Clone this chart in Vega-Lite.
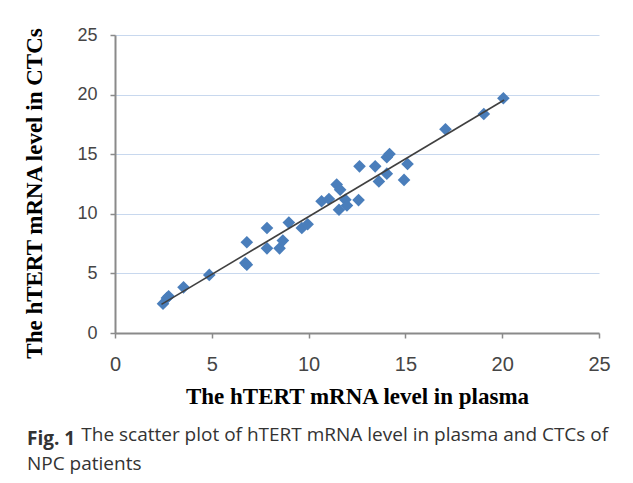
{
  "$schema": "https://vega.github.io/schema/vega-lite/v6.json",
  "width": 484,
  "height": 298,
  "autosize": {"type": "none"},
  "padding": {"left": 115, "top": 35, "right": 34, "bottom": 150},
  "background": "white",
  "data": {
    "values": [
      {"plasma": 2.48, "ctc": 2.46},
      {"plasma": 2.68, "ctc": 2.94},
      {"plasma": 2.77, "ctc": 3.08},
      {"plasma": 3.54, "ctc": 3.83},
      {"plasma": 4.87, "ctc": 4.87},
      {"plasma": 6.81, "ctc": 5.73},
      {"plasma": 6.73, "ctc": 5.87},
      {"plasma": 6.81, "ctc": 7.61},
      {"plasma": 7.85, "ctc": 7.10},
      {"plasma": 7.85, "ctc": 8.81},
      {"plasma": 8.50, "ctc": 7.10},
      {"plasma": 8.67, "ctc": 7.75},
      {"plasma": 8.98, "ctc": 9.26},
      {"plasma": 9.65, "ctc": 8.81},
      {"plasma": 9.95, "ctc": 9.12},
      {"plasma": 10.67, "ctc": 11.05},
      {"plasma": 11.05, "ctc": 11.24},
      {"plasma": 11.45, "ctc": 12.45},
      {"plasma": 11.63, "ctc": 12.02},
      {"plasma": 11.57, "ctc": 10.34},
      {"plasma": 11.90, "ctc": 11.18},
      {"plasma": 11.98, "ctc": 10.70},
      {"plasma": 12.58, "ctc": 11.15},
      {"plasma": 12.63, "ctc": 13.98},
      {"plasma": 13.44, "ctc": 13.98},
      {"plasma": 13.63, "ctc": 12.72},
      {"plasma": 14.04, "ctc": 13.37},
      {"plasma": 14.04, "ctc": 14.74},
      {"plasma": 14.18, "ctc": 15.02},
      {"plasma": 14.93, "ctc": 12.84},
      {"plasma": 15.11, "ctc": 14.18},
      {"plasma": 17.07, "ctc": 17.09},
      {"plasma": 19.05, "ctc": 18.37},
      {"plasma": 20.06, "ctc": 19.69}
    ]
  },
  "title": {
    "text": "Fig. 1",
    "subtitle": ["\u200b\u00a0\u00a0\u00a0\u00a0\u00a0\u00a0\u00a0\u00a0\u00a0\u00a0\u00a0The scatter plot of hTERT mRNA level in plasma and CTCs of", "NPC patients"],
    "orient": "bottom",
    "anchor": "start",
    "frame": "bounds",
    "font": "Open Sans",
    "fontSize": 19,
    "fontWeight": "bold",
    "color": "#333333",
    "subtitleFont": "Open Sans",
    "subtitleFontSize": 19,
    "subtitleFontWeight": "normal",
    "subtitleColor": "#333333",
    "subtitleLineHeight": 29,
    "subtitlePadding": -23,
    "offset": 22,
    "dx": 3
  },
  "layer": [
    {
      "mark": {"type": "point", "shape": "diamond", "filled": true, "size": 160, "color": "#4a7ebb", "opacity": 1},
      "encoding": {
        "x": {"field": "plasma", "type": "quantitative"},
        "y": {"field": "ctc", "type": "quantitative"}
      }
    },
    {
      "transform": [{"regression": "ctc", "on": "plasma", "extent": [2.4, 20.1]}],
      "mark": {"type": "line", "color": "#404040", "strokeWidth": 1.6},
      "encoding": {
        "x": {"field": "plasma", "type": "quantitative"},
        "y": {"field": "ctc", "type": "quantitative"}
      }
    }
  ],
  "encoding": {
    "x": {
      "field": "plasma",
      "type": "quantitative",
      "scale": {"domain": [0, 25], "nice": false, "zero": true},
      "axis": {
        "values": [0, 5, 10, 15, 20, 25],
        "title": "The hTERT mRNA level in plasma",
        "grid": false,
        "labelFontSize": 20,
        "titlePadding": 11,
        "labelPadding": 16
      }
    },
    "y": {
      "field": "ctc",
      "type": "quantitative",
      "scale": {"domain": [0, 25], "nice": false},
      "axis": {
        "values": [0, 5, 10, 15, 20, 25],
        "title": "The hTERT mRNA level in CTCs",
        "grid": true,
        "labelFontSize": 18,
        "titlePadding": 30,
        "titleY": 158,
        "labelPadding": 13
      }
    }
  },
  "config": {
    "view": {"stroke": null},
    "axis": {
      "domainColor": "#8a8a8a",
      "domainWidth": 2,
      "tickColor": "#8a8a8a",
      "tickWidth": 1.5,
      "tickSize": 5,
      "gridColor": "#c8d8ee",
      "gridWidth": 1.2,
      "labelFont": "Liberation Sans",
      "labelColor": "#454545",
      "titleFont": "Liberation Serif",
      "titleFontSize": 23,
      "titleFontWeight": "bold",
      "titleColor": "#000000",
      "labelFlush": false
    }
  }
}
